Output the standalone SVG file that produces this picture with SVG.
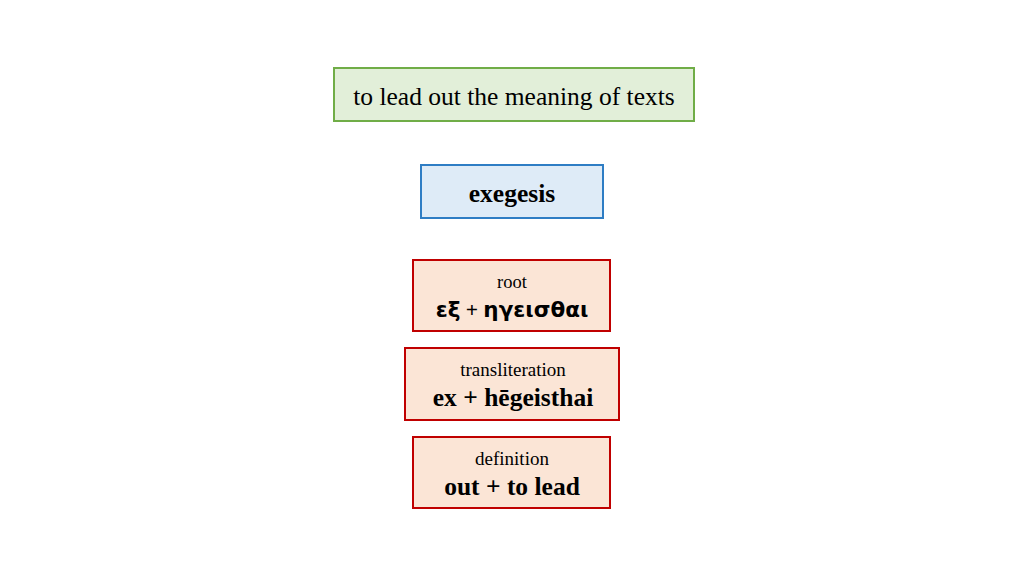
<svg xmlns="http://www.w3.org/2000/svg" width="1024" height="576" viewBox="0 0 1024 576">
<style>
.s{font-family:"Liberation Serif","Times New Roman",serif;fill:#000;text-anchor:middle}
.b{font-weight:bold}
.g{font-family:"DejaVu Sans","Noto Sans",sans-serif;font-weight:bold}
.red{fill:#fbe5d6;stroke:#c00000;stroke-width:2}
</style>
<rect width="1024" height="576" fill="#fff"/>
<g id="meaning">
<rect x="334" y="68" width="360" height="53" fill="#e2efd9" stroke="#70ad47" stroke-width="2"/>
<text class="s" x="514" y="105" font-size="25.5">to lead out the meaning of texts</text>
</g>
<g id="exegesis">
<rect x="421" y="165" width="182" height="53" fill="#deebf7" stroke="#2e7dc4" stroke-width="2"/>
<text class="s b" x="512" y="202" font-size="25.5">exegesis</text>
</g>
<g id="root">
<rect class="red" x="413" y="260" width="197" height="71"/>
<text class="s" x="512" y="288" font-size="18.5">root</text>
<text class="s b" x="512" y="317" font-size="21.5"><tspan class="g">εξ</tspan> + <tspan class="g">ηγεισθαι</tspan></text>
</g>
<g id="transliteration">
<rect class="red" x="405" y="348" width="214" height="72"/>
<text class="s" x="513" y="376" font-size="19">transliteration</text>
<text class="s b" x="513" y="406" font-size="25.5">ex + hēgeisthai</text>
</g>
<g id="definition">
<rect class="red" x="413" y="437" width="197" height="71"/>
<text class="s" x="512" y="465" font-size="19">definition</text>
<text class="s b" x="512" y="495" font-size="25.5">out + to lead</text>
</g>
<g id="connectors"></g>
</svg>
